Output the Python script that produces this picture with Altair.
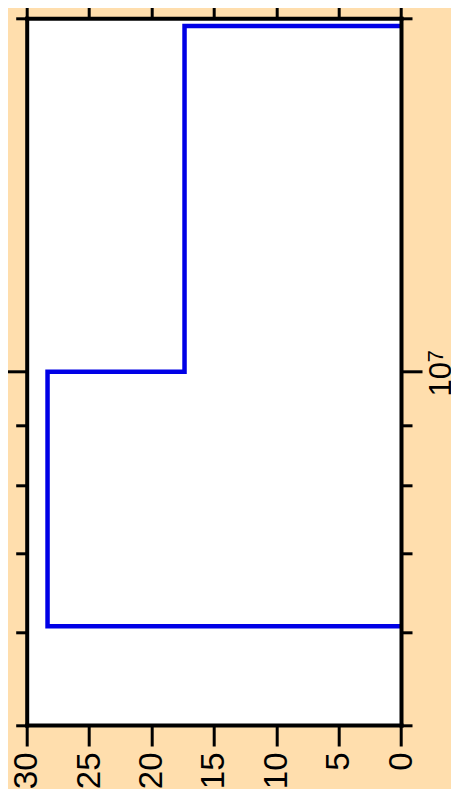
import altair as alt
import pandas as pd

# Histogram (drawn rotated): bin edges on a log axis, counts on a linear axis
bin_edges = [6.07e6, 1.0e7, 1.97e7]
counts = [28.33, 17.35]
count_ticks = [0, 5, 10, 15, 20, 25, 30]
major_ticks = [1.0e7]
minor_ticks = [5.0e6, 6.0e6, 7.0e6, 8.0e6, 9.0e6, 2.0e7]
major_mantissa = "10"
major_exponent = "7"

# step outline built from the arrays
xs, ys = [0.0], [bin_edges[0]]
for i, c in enumerate(counts):
    xs += [c, c]
    ys += [bin_edges[i], bin_edges[i + 1]]
xs.append(0.0)
ys.append(bin_edges[-1])
df = pd.DataFrame({"count": xs, "value": ys, "order": list(range(len(xs)))})

FONT = "Liberation Sans"
xscale = alt.Scale(domain=[0, 30], reverse=True, nice=False, zero=False)
yscale = alt.Scale(type="log", domain=[5e6, 2e7], nice=False)

base_axis = dict(
    grid=False, title=None, zindex=1, tickColor="black", tickWidth=3,
    labelFont=FONT, labelColor="black", labelFontSize=33, labelOverlap=False,
    labelBound=False, labelFlush=False,
)
frame_axis = dict(base_axis, domainColor="black", domainWidth=4, domainCap="square")
plain_axis = dict(base_axis, domain=False)


def layer(x_axis, y_axis, visible):
    mk = alt.Chart(df).mark_line(
        color="#0000e6", strokeWidth=4.5, strokeJoin="miter", strokeCap="butt",
        opacity=1 if visible else 0, clip=True,
    )
    return mk.encode(
        x=alt.X("count:Q", scale=xscale, axis=x_axis),
        y=alt.Y("value:Q", scale=yscale, axis=y_axis),
        order="order:Q",
    )


bottom = alt.Axis(orient="bottom", values=count_ticks, labelAngle=270,
                  tickSize=21, labelPadding=6, **frame_axis)
top = alt.Axis(orient="top", values=count_ticks, labels=False, tickSize=21,
               **frame_axis)
right_major = alt.Axis(orient="right", values=major_ticks, tickSize=21,
                       labelExpr=f"'{major_mantissa}'", labelAngle=270,
                       labelAlign="center", labelBaseline="top",
                       labelPadding=4, labelOffset=7,
                       **dict(frame_axis, labelFontSize=31))
right_exp = alt.Axis(orient="right", values=major_ticks, tickSize=21,
                     tickOpacity=0, labelExpr=f"'{major_exponent}'",
                     labelAngle=270, labelAlign="center", labelBaseline="top",
                     labelPadding=3, labelOffset=-16,
                     **dict(plain_axis, labelFontSize=22))
left_major = alt.Axis(orient="left", values=major_ticks, labels=False,
                      tickSize=21, **frame_axis)
right_minor = alt.Axis(orient="right", values=minor_ticks, labels=False,
                       tickSize=11, **plain_axis)
left_minor = alt.Axis(orient="left", values=minor_ticks, labels=False,
                      tickSize=11, **plain_axis)

chart = alt.layer(
    layer(bottom, right_major, True),
    layer(top, left_major, False),
    layer(None, right_minor, False),
    layer(None, left_minor, False),
    layer(None, right_exp, False),
).resolve_axis(x="independent", y="independent").properties(
    width=374.3,
    height=706.7,
    autosize=alt.AutoSizeParams(type="none"),
    padding={"left": 18.7, "top": 10.3, "right": 50, "bottom": 64},
    background="#FFDEAD",
).configure_view(fill="white", stroke=None)

chart.save("out.html", embed_options={"renderer": "svg", "actions": False})
